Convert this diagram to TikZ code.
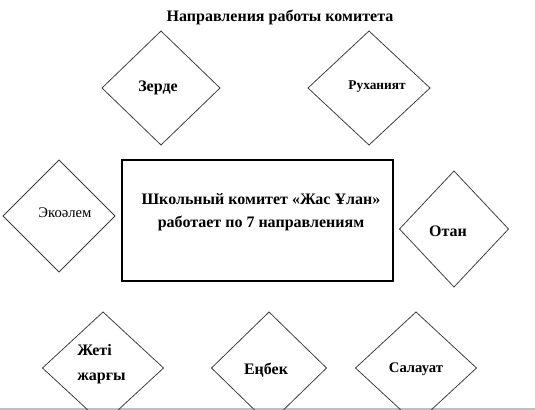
\documentclass[tikz,border=0pt]{standalone}
\usepackage{fontspec}
\setmainfont{Liberation Serif}
\usetikzlibrary{shapes.geometric}
\begin{document}
\begin{tikzpicture}[x=0.75pt,y=-0.75pt,
  dia/.style={draw=black!75,line width=0.6pt,shape=diamond,inner sep=0pt,outer sep=0pt},
  lbl/.style={inner sep=0pt,font=\bfseries\fontsize{12}{14}\selectfont},
  frame/.style={draw=black,line width=0.9pt,inner sep=0pt,outer sep=0pt}]
\clip (0,0) rectangle (535,410);
\fill[white] (0,0) rectangle (535,410);
\draw[black!25,line width=1pt] (0,409) -- (535,409);
% title
\node[lbl] (title) at (280,17) {Направления работы комитета};
% diamonds
\node[dia,minimum width=0.75*118pt,minimum height=0.75*114pt] (zerde) at (161,88) {};
\node[dia,minimum width=0.75*122pt,minimum height=0.75*114pt] (ruh) at (369,88) {};
\node[dia,minimum width=0.75*112pt,minimum height=0.75*112pt] (eko) at (59,216) {};
\node[dia,minimum width=0.75*109pt,minimum height=0.75*116pt] (otan) at (454,229) {};
\node[dia,minimum width=0.75*121pt,minimum height=0.75*112pt] (zheti) at (103,368) {};
\node[dia,minimum width=0.75*115pt,minimum height=0.75*112pt] (enbek) at (269,368) {};
\node[dia,minimum width=0.75*121pt,minimum height=0.75*112pt] (salauat) at (416,368) {};
% central box
\node[frame,minimum width=0.75*271pt,minimum height=0.75*121pt] (main) at (257.5,220.5) {};
% labels
\node[lbl] (tzerde) at (158,88) {Зерде};
\node[lbl,font=\bfseries\fontsize{10}{12}\selectfont] (truh) at (377,87) {Руханият};
\node[lbl,font=\fontsize{11}{13}\selectfont] (teko) at (65,213) {Экоәлем};
\node[lbl] (totan) at (448,231) {Отан};
\node[lbl,align=left,anchor=west,font=\bfseries\fontsize{12}{18.75}\selectfont] (tzheti) at (77,364) {Жеті\\жарғы};
\node[lbl] (tenbek) at (266,370) {Еңбек};
\node[lbl,font=\bfseries\fontsize{11}{13}\selectfont] (tsal) at (416,369) {Салауат};
\node[lbl,align=center,font=\bfseries\fontsize{12}{17}\selectfont] (tmain) at (261,212) {Школьный комитет «Жас Ұлан»\\работает по 7 направлениям};
\end{tikzpicture}
\end{document}
